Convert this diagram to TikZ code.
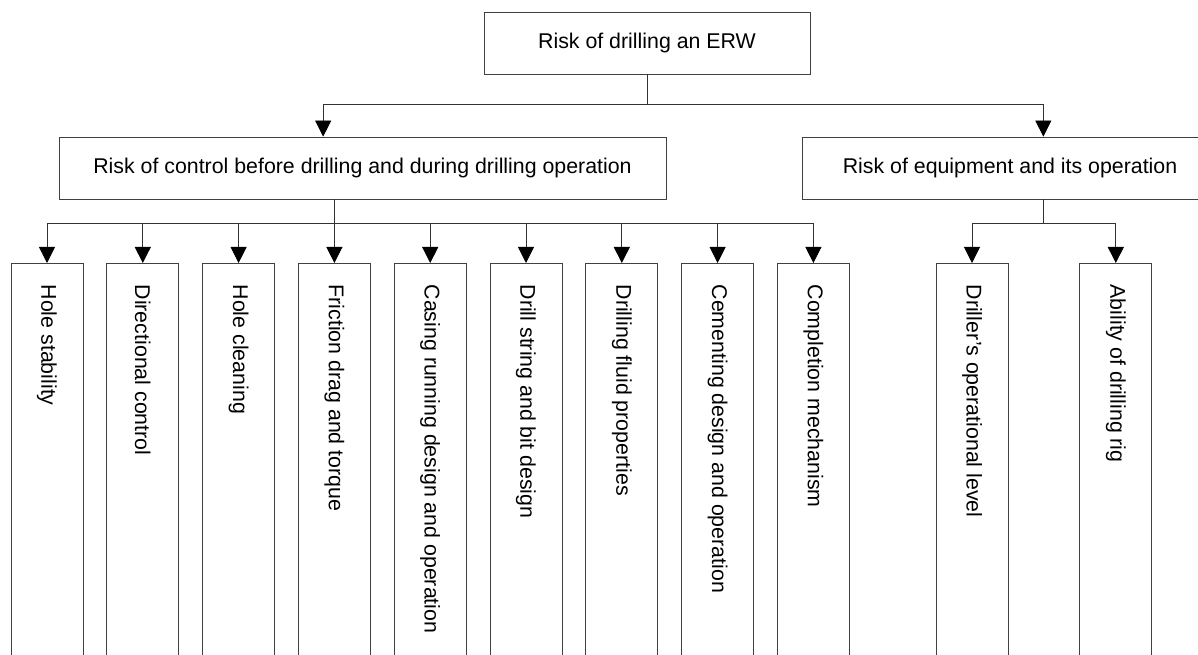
\documentclass[tikz,border=0pt]{standalone}
\usepackage{fontspec}
\setmainfont{Liberation Sans}
\usetikzlibrary{positioning, arrows.meta}

\begin{document}
\begin{tikzpicture}[
        x=0.75pt, y=-0.75pt,
        font=\fontsize{16}{19}\selectfont,
        top_node/.style={draw=black!75, line width=0.6pt, rectangle, minimum width=244.5pt, minimum height=46.5pt, align=center},
        branch_node/.style={draw=black!75, line width=0.6pt, rectangle, minimum height=46.5pt, align=center},
        leaf_node/.style={draw=black!75, line width=0.6pt, rectangle, anchor=north, minimum width=54pt, inner ysep=16pt, text height=0pt, text depth=270pt},
        arrow/.style={-{Triangle[width=12pt, length=12pt, color=black]}, draw=black!80, line width=0.6pt}
    ]
        \useasboundingbox (0,0) rectangle (1198,655);
        \clip (0,0) rectangle (1198,655);

        % Nodes
        \node (erw) [top_node] at (647,43) {Risk of drilling an ERW};
        \node (control) [branch_node, minimum width=455.25pt] at (362.5,168) {Risk of control before drilling and during drilling operation};
        \node (equip) [branch_node, minimum width=312pt] at (1010,168) {Risk of equipment and its operation};

        \node (stability) [leaf_node] at (47,263) {\rotatebox{-90}{Hole stability}};
        \node (direction) [leaf_node, right=17.25pt of stability] {\rotatebox{-90}{Directional control}};
        \node (cleaning) [leaf_node, right=17.25pt of direction] {\rotatebox{-90}{Hole cleaning}};
        \node (friction) [leaf_node, right=17.25pt of cleaning] {\rotatebox{-90}{Friction drag and torque}};
        \node (casing) [leaf_node, right=17.25pt of friction] {\rotatebox{-90}{Casing running design and operation}};
        \node (string) [leaf_node, right=17.25pt of casing] {\rotatebox{-90}{Drill string and bit design}};
        \node (fluid) [leaf_node, right=17.25pt of string] {\rotatebox{-90}{Drilling fluid properties}};
        \node (cement) [leaf_node, right=17.25pt of fluid] {\rotatebox{-90}{Cementing design and operation}};
        \node (completion) [leaf_node, right=17.25pt of cement] {\rotatebox{-90}{Completion mechanism}};

        \node (driller) [leaf_node] at (972,263) {\rotatebox{-90}{Driller's operational level}};
        \node (rig) [leaf_node, right=53.25pt of driller] {\rotatebox{-90}{Ability of drilling rig}};

        % Arrows
        \coordinate (control_bus) at (friction.north |- control.south);
        \coordinate (equip_bus) at ([xshift=25pt]equip.south);

        \draw [arrow] (erw.south) -- ++(0,30) -| ([xshift=-29.5pt]control.north);
        \draw [arrow] (erw.south) -- ++(0,30) -| ([xshift=25pt]equip.north);

        \draw [arrow] (control_bus) -- ++(0,24) -| (stability.north);
        \draw [arrow] (control_bus) -- ++(0,24) -| (direction.north);
        \draw [arrow] (control_bus) -- ++(0,24) -| (cleaning.north);
        \draw [arrow] (control_bus) -- (friction.north);
        \draw [arrow] (control_bus) -- ++(0,24) -| (casing.north);
        \draw [arrow] (control_bus) -- ++(0,24) -| (string.north);
        \draw [arrow] (control_bus) -- ++(0,24) -| (fluid.north);
        \draw [arrow] (control_bus) -- ++(0,24) -| (cement.north);
        \draw [arrow] (control_bus) -- ++(0,24) -| (completion.north);

        \draw [arrow] (equip_bus) -- ++(0,24) -| (driller.north);
        \draw [arrow] (equip_bus) -- ++(0,24) -| (rig.north);
    \end{tikzpicture}
\end{document}
